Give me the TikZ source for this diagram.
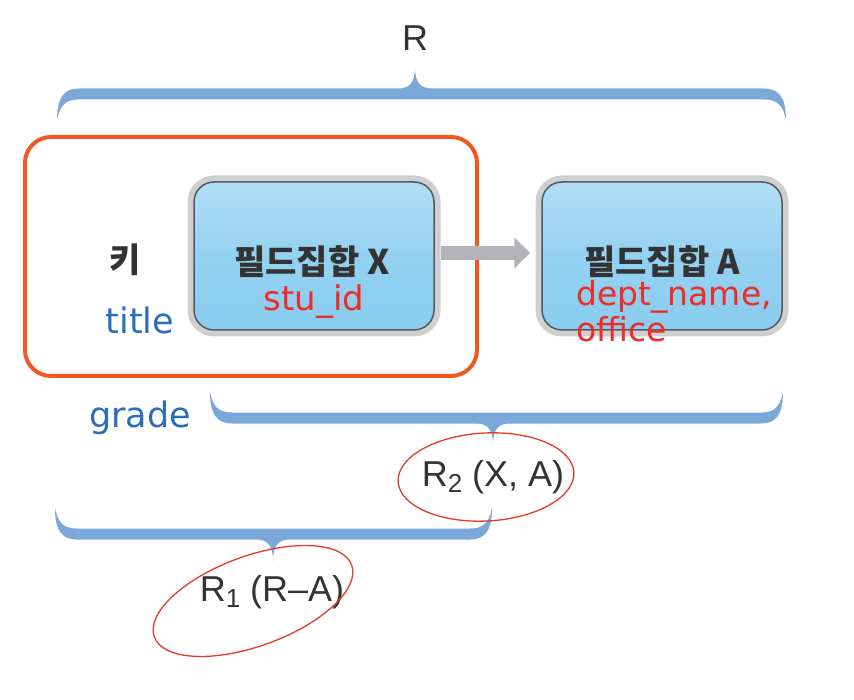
\documentclass[tikz,border=0pt]{standalone}
\usepackage{fontspec}
\setmainfont{DejaVu Sans}
\newfontfamily\kr{Noto Sans CJK KR}
\newfontfamily\arl{Liberation Sans}
\usetikzlibrary{arrows.meta,shapes.geometric}
\definecolor{bracecol}{HTML}{7BA7D9}
\definecolor{orangec}{HTML}{F05A22}
\definecolor{bluetxt}{HTML}{2A6EBB}
\definecolor{redtxt}{HTML}{EE2B24}
\definecolor{ellred}{HTML}{E53A2A}
\definecolor{boxtop}{HTML}{B2DFF6}
\definecolor{boxbot}{HTML}{8ACDF0}
\definecolor{halo}{HTML}{CFCFD1}
\definecolor{arrgray}{HTML}{B4B4B8}
\definecolor{dark}{HTML}{333333}
\newcommand\hbr[5]{%
\begin{scope}[shift={(#1,#3)}, yscale=#5]
\fill[bracecol] (0,26) .. controls (0,2) and (8,-5.5) .. (22,-5.5)
 -- ({#4-#1-17},-5.5) .. controls ({#4-#1-5},-5.5) and ({#4-#1},-12) .. ({#4-#1},-27)
 .. controls ({#4-#1},-12) and ({#4-#1+5},-5.5) .. ({#4-#1+17},-5.5)
 -- ({#2-#1-22},-5.5) .. controls ({#2-#1-8},-5.5) and ({#2-#1},2) .. ({#2-#1},26)
 .. controls ({#2-#1-3},10) and ({#2-#1-10},5.5) .. ({#2-#1-22},5.5)
 -- (22,5.5) .. controls (10,5.5) and (3,10) .. (0,26) -- cycle;
\end{scope}}
\tikzset{
  fieldbox/.style={rounded corners=20pt, minimum width=240pt, minimum height=148pt,
    draw=black!65, line width=1.5pt, top color=boxtop, bottom color=boxbot, middle color=boxbot!92!white,
    preaction={draw=halo, line width=13pt}},
  krlab/.style={font=\kr\bfseries\fontsize{34}{37}\selectfont, text=dark},
  bluelab/.style={font=\fontsize{35}{38}\selectfont, text=bluetxt},
  redlab/.style={font=\fontsize{34}{37}\selectfont, text=redtxt, inner sep=0pt},
  rlab/.style={font=\arl\fontsize{36}{39}\selectfont, text=black!80},
  arr/.style={draw=arrgray, line width=14pt, -{Triangle[length=16pt,width=30pt]}},
  annot/.style={draw=ellred, line width=1.3pt}
}
\begin{document}
\begin{tikzpicture}[x=1pt,y=-1pt]
\useasboundingbox (0,0) rectangle (854,700);
% key frame
\node[draw=orangec, line width=4pt, rounded corners=26pt, minimum width=452pt, minimum height=239pt] (keyfr) at (251,256.5) {};
% boxes
\node[fieldbox] (bx) at (314,256) {};
\node[fieldbox] (ba) at (662,256) {};
\draw[arr, shorten <=6pt, shorten >=11pt] ([yshift=3pt]bx.east) -- ([yshift=3pt]ba.west);
% texts
\node[krlab] (kx) at (312,262) {필드집합 X};
\node[krlab] (ka) at (662,262) {필드집합 A};
\node[krlab] (key) at (125,260) {키};
\node[bluelab] (title) at (140,320) {title};
\node[bluelab] (grade) at (140,418) {grade};
\node[redlab] (stu) at (314,302) {stu\_id};
\node[redlab, font=\fontsize{33}{36}\selectfont, anchor=west, align=left] (dept) at (576,311) {dept\_name,\\office};
% braces
\hbr{57}{786}{94}{415}{1}
\hbr{210}{783}{418}{493}{-1}
\hbr{55}{492}{534}{273}{-1}
\node[rlab] (R) at (415,38) {R};
\node[rlab] (R2) at (493,477) {R\raisebox{-0.3ex}{\fontsize{26}{26}\selectfont 2} (X, A)};
\node[rlab] (R1) at (272,592) {R\raisebox{-0.3ex}{\fontsize{26}{26}\selectfont 1} (R–A)};
% annotation ellipses
\draw[annot, rotate around={3:(486,477)}] (486,477) ellipse [x radius=88, y radius=44];
\draw[annot, rotate around={20:(253,601)}] (253,601) ellipse [x radius=105, y radius=45];
\end{tikzpicture}
\end{document}
